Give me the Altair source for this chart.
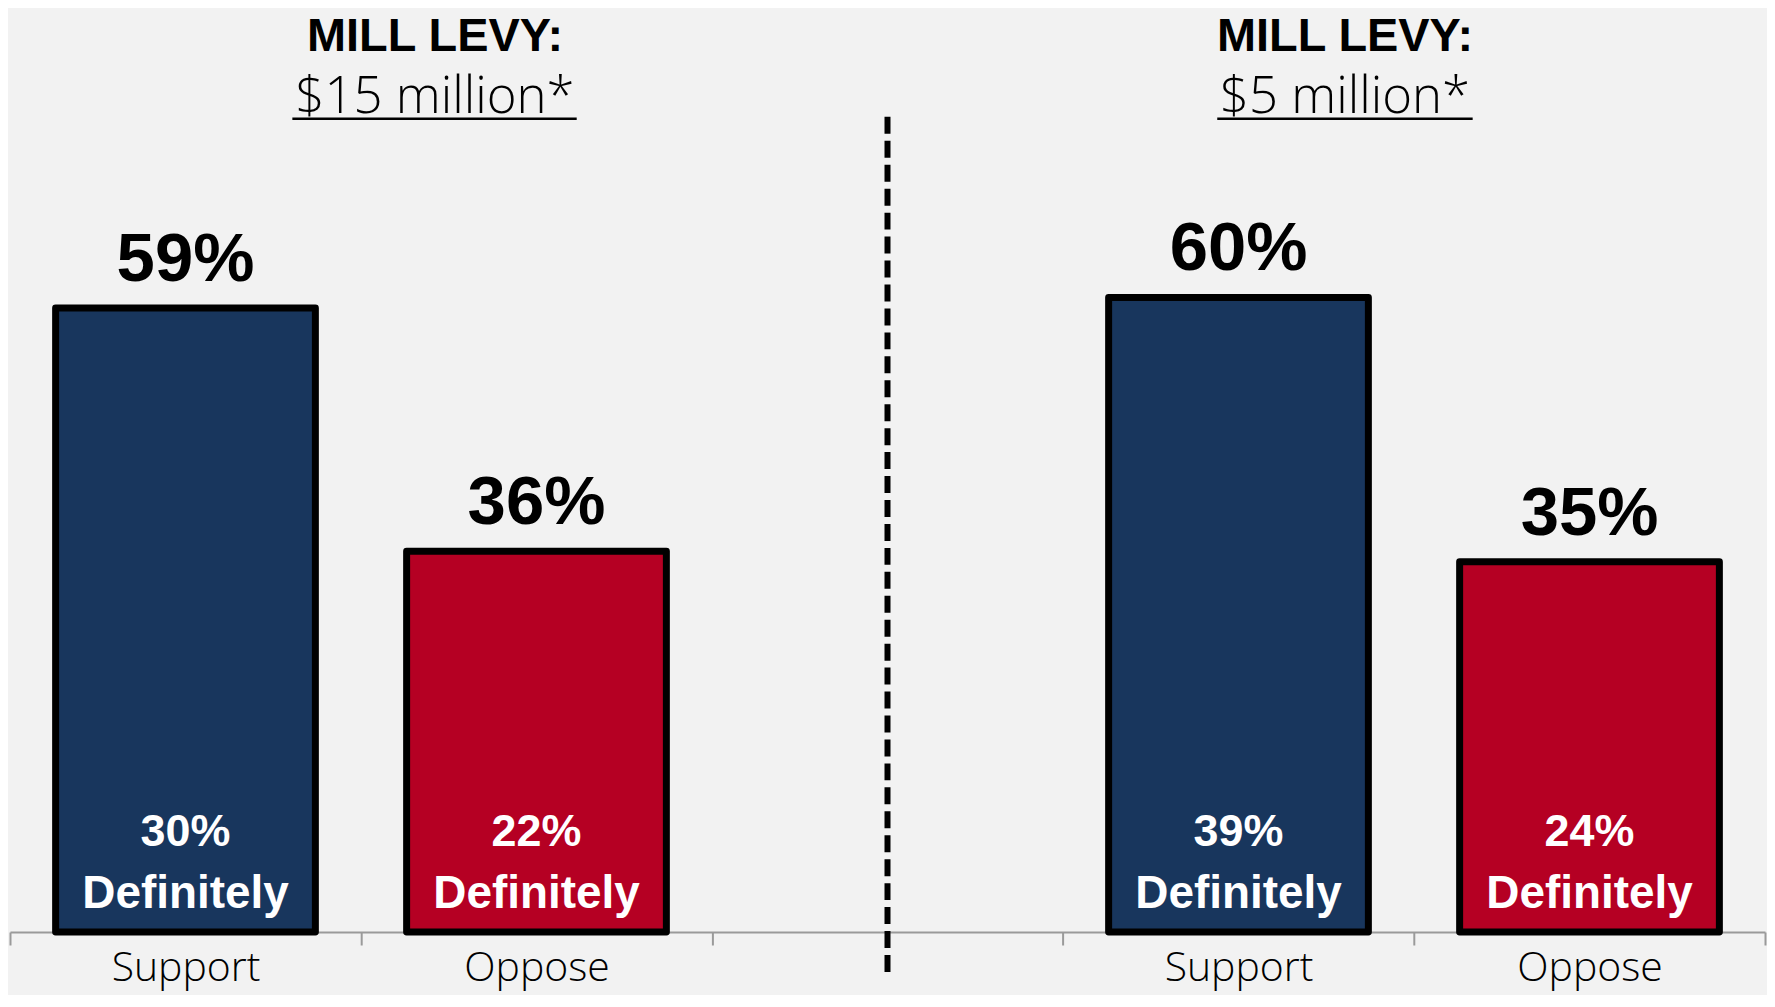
import altair as alt
import pandas as pd

# ---- data ----
categories = ["Support|A", "Oppose|A", "gap", "Support|B", "Oppose|B"]
bar_categories = ["Support|A", "Oppose|A", "Support|B", "Oppose|B"]
bar_sides = ["Support", "Oppose", "Support", "Oppose"]
totals = [59, 36, 60, 35]
definitely = [30, 22, 39, 24]
panel_titles = ["MILL LEVY:", "MILL LEVY:"]
panel_amounts = ["$15 million*", "$5 million*"]

NAVY = "#18365d"
RED = "#b50023"
BG = "#f2f2f2"

df = pd.DataFrame({
    "cat": bar_categories,
    "side": bar_sides,
    "total": totals,
    "def": definitely,
})
df["total_label"] = df["total"].astype(str) + "%"
df["def_label"] = df["def"].astype(str) + "%"

W, H = 1759, 925
YMAX = 87.26

x_enc = alt.X(
    "cat:N",
    scale=alt.Scale(domain=categories, paddingInner=0, paddingOuter=0),
    sort=categories,
    axis=alt.Axis(
        title=None,
        labelExpr="isString(datum.value) && datum.value != 'gap' ? split(datum.value, '|')[0] : ''",
        labelAngle=0,
        labelFont="Open Sans",
        labelFontWeight=300,
        labelFontSize=41,
        labelColor="#000000",
        labelBaseline="alphabetic",
        labelPadding=36,
        tickBand="extent",
        tickSize=13,
        tickWidth=2,
        tickColor="#9a9a9a",
        domainColor="#9a9a9a",
        domainWidth=2,
        grid=False,
    ),
)
y_scale = alt.Scale(domain=[0, YMAX], nice=False, zero=True)
y_enc = alt.Y("total:Q", scale=y_scale, axis=None)

base = alt.Chart(df)

bars = base.mark_bar(
    stroke="#000000", strokeWidth=7, strokeJoin="round",
    width=alt.RelativeBandSize(0.74),
).encode(
    x=x_enc,
    y=y_enc,
    color=alt.Color("side:N", scale=alt.Scale(domain=["Support", "Oppose"], range=[NAVY, RED]), legend=None),
)

top_labels = base.mark_text(
    baseline="alphabetic", dy=-27, font="Liberation Sans", fontWeight="bold",
    fontSize=69, color="#000000",
).encode(x=alt.X("cat:N", sort=categories), y=y_enc, text="total_label:N")

def_num = base.mark_text(
    baseline="alphabetic", dy=-86, font="Liberation Sans", fontWeight="bold",
    fontSize=45, color="#ffffff",
).encode(x=alt.X("cat:N", sort=categories), y=alt.datum(0), text="def_label:N")

def_word = base.mark_text(
    baseline="alphabetic", dy=-24, font="Liberation Sans", fontWeight="bold",
    fontSize=46, color="#ffffff", text="Definitely",
).encode(x=alt.X("cat:N", sort=categories), y=alt.datum(0))

divider = alt.Chart(pd.DataFrame({"c": ["gap"]})).mark_rule(
    color="#000000", strokeWidth=6, strokeDash=[17, 7]
).encode(x=alt.X("c:N", sort=categories), y=alt.value(108), y2=alt.value(965))

layers = [bars, top_labels, def_num, def_word, divider]

title_x = [426, 1338]
under_x = [(283, 568), (1210, 1466)]
for i in range(2):
    one = alt.Chart(pd.DataFrame({"t": [panel_titles[i]], "a": [panel_amounts[i]]}))
    layers.append(one.mark_text(
        baseline="alphabetic", align="center", font="Liberation Sans", fontWeight="bold",
        fontSize=47, color="#000000",
    ).encode(x=alt.value(title_x[i]), y=alt.value(42), text="t:N"))
    layers.append(one.mark_text(
        baseline="alphabetic", align="center", font="Open Sans", fontWeight=300,
        fontSize=51, color="#000000",
    ).encode(x=alt.value(title_x[i]), y=alt.value(104), text="a:N"))
    layers.append(one.mark_rule(color="#000000", strokeWidth=2.5).encode(
        x=alt.value(under_x[i][0]), x2=alt.value(under_x[i][1]), y=alt.value(110)))

chart = alt.layer(*layers).properties(
    width=W, height=H,
    autosize=alt.AutoSizeParams(type="none"),
    padding={"left": 2, "top": 0, "right": 2, "bottom": 62},
    background=BG,
).configure_view(stroke=None)

chart.save("out.html", embed_options={"renderer": "svg", "actions": False})
